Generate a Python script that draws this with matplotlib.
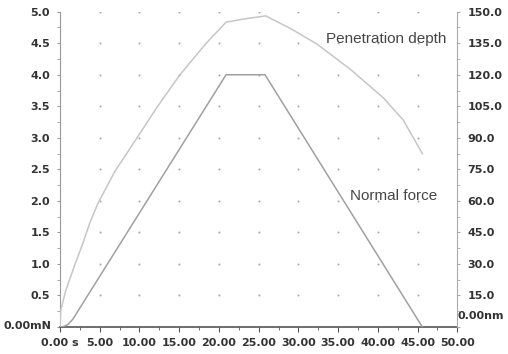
import matplotlib
matplotlib.use("Agg")
import matplotlib.pyplot as plt
import matplotlib.transforms as mtransforms
import numpy as np

# Data
force_t = [0.0, 0.5, 1.0, 1.6, 20.9, 25.8, 45.6]
force_mN = [0.0, 0.01, 0.04, 0.12, 4.0, 4.0, 0.0]

depth_t = [0.0, 0.1, 0.7, 1.9, 2.8, 3.8, 4.8, 6.9, 9.7, 12.2, 15.1, 18.4,
           20.9, 23.1, 25.9, 29.0, 32.3, 36.5, 40.7, 43.2, 45.6]
depth_nm = [0.0, 8.0, 17.0, 30.0, 39.0, 50.0, 59.0, 74.0, 90.0, 104.5, 120.0, 135.0,
            145.0, 146.5, 148.0, 142.0, 134.7, 122.7, 109.0, 98.4, 82.5]

x_ticks = [0, 5, 10, 15, 20, 25, 30, 35, 40, 45, 50]
x_labels = ["0.00 s", "5.00", "10.00", "15.00", "20.00", "25.00", "30.00",
            "35.00", "40.00", "45.00", "50.00"]
left_ticks = [0, 0.5, 1.0, 1.5, 2.0, 2.5, 3.0, 3.5, 4.0, 4.5, 5.0]
left_labels = ["0.00mN", "0.5", "1.0", "1.5", "2.0", "2.5", "3.0", "3.5", "4.0", "4.5", "5.0"]
right_ticks = [0, 15, 30, 45, 60, 75, 90, 105, 120, 135, 150]
right_labels = ["0.00nm", "15.0", "30.0", "45.0", "60.0", "75.0", "90.0", "105.0",
                "120.0", "135.0", "150.0"]

fig = plt.figure(figsize=(5.08, 3.54), dpi=100)
ax = fig.add_axes([0.1181, 0.0763, 0.7821, 0.8907])
ax2 = ax.twinx()

ax.set_xlim(0, 50)
ax.set_ylim(0, 5)
ax2.set_ylim(0, 150)

# dotted grid at tick intersections
gx, gy = np.meshgrid(x_ticks[1:-1], left_ticks[1:])
ax.scatter(gx.ravel(), gy.ravel(), s=2.2, color="#aaaaaa", zorder=1, linewidths=0)

ax.plot(force_t, force_mN, color="#a0a0a0", lw=1.1, zorder=3)
ax2.plot(depth_t, depth_nm, color="#c6c6c6", lw=1.1, zorder=3)

ax.text(41.0, 4.57, "Penetration depth", fontsize=11, color="#454545",
        family="Liberation Sans", ha="center", va="center")
ax.text(42.0, 2.07, "Normal force", fontsize=11, color="#454545",
        family="Liberation Sans", ha="center", va="center")

for a in (ax, ax2):
    a.spines["top"].set_visible(False)
ax.spines["right"].set_visible(False)
ax2.spines["left"].set_visible(False)
ax2.spines["bottom"].set_visible(False)
ax.spines["left"].set_color("#999999")
ax.spines["bottom"].set_color("#555555")
ax2.spines["right"].set_color("#aaaaaa")
ax.spines["bottom"].set_linewidth(1.2)

ax.set_xticks(x_ticks)
ax.set_xticklabels(x_labels, fontsize=8, fontweight="bold", color="#333333")
ax.set_xticks(np.arange(2.5, 50, 5), minor=True)
ax.set_yticks(left_ticks)
ax.set_yticklabels(left_labels, fontsize=8, fontweight="bold", color="#333333")
ax.set_yticks(np.arange(0.25, 5, 0.5), minor=True)
ax2.set_yticks(right_ticks)
ax2.set_yticklabels(right_labels, fontsize=8, fontweight="bold", color="#333333")
ax2.set_yticks(np.arange(7.5, 150, 15), minor=True)

ax.tick_params(axis="x", which="major", length=3.5, color="#555555", pad=4.5)
ax.tick_params(axis="x", which="minor", length=2.5, color="#555555")
ax.tick_params(axis="y", which="both", length=2.2, color="#999999", pad=5)
ax2.tick_params(axis="y", which="both", length=2.2, color="#aaaaaa", pad=5.3)

fig.canvas.draw()
lab0 = ax.get_yticklabels()[0]
lab0.set_va("bottom")
lab0.set_transform(lab0.get_transform() + mtransforms.ScaledTranslation(1 / 72, -3 / 72, fig.dpi_scale_trans))
rlab0 = ax2.get_yticklabels()[0]
rlab0.set_va("bottom")
rlab0.set_transform(rlab0.get_transform() + mtransforms.ScaledTranslation(-7.5 / 72, 4 / 72, fig.dpi_scale_trans))

fig.savefig("out.png", dpi=100)
